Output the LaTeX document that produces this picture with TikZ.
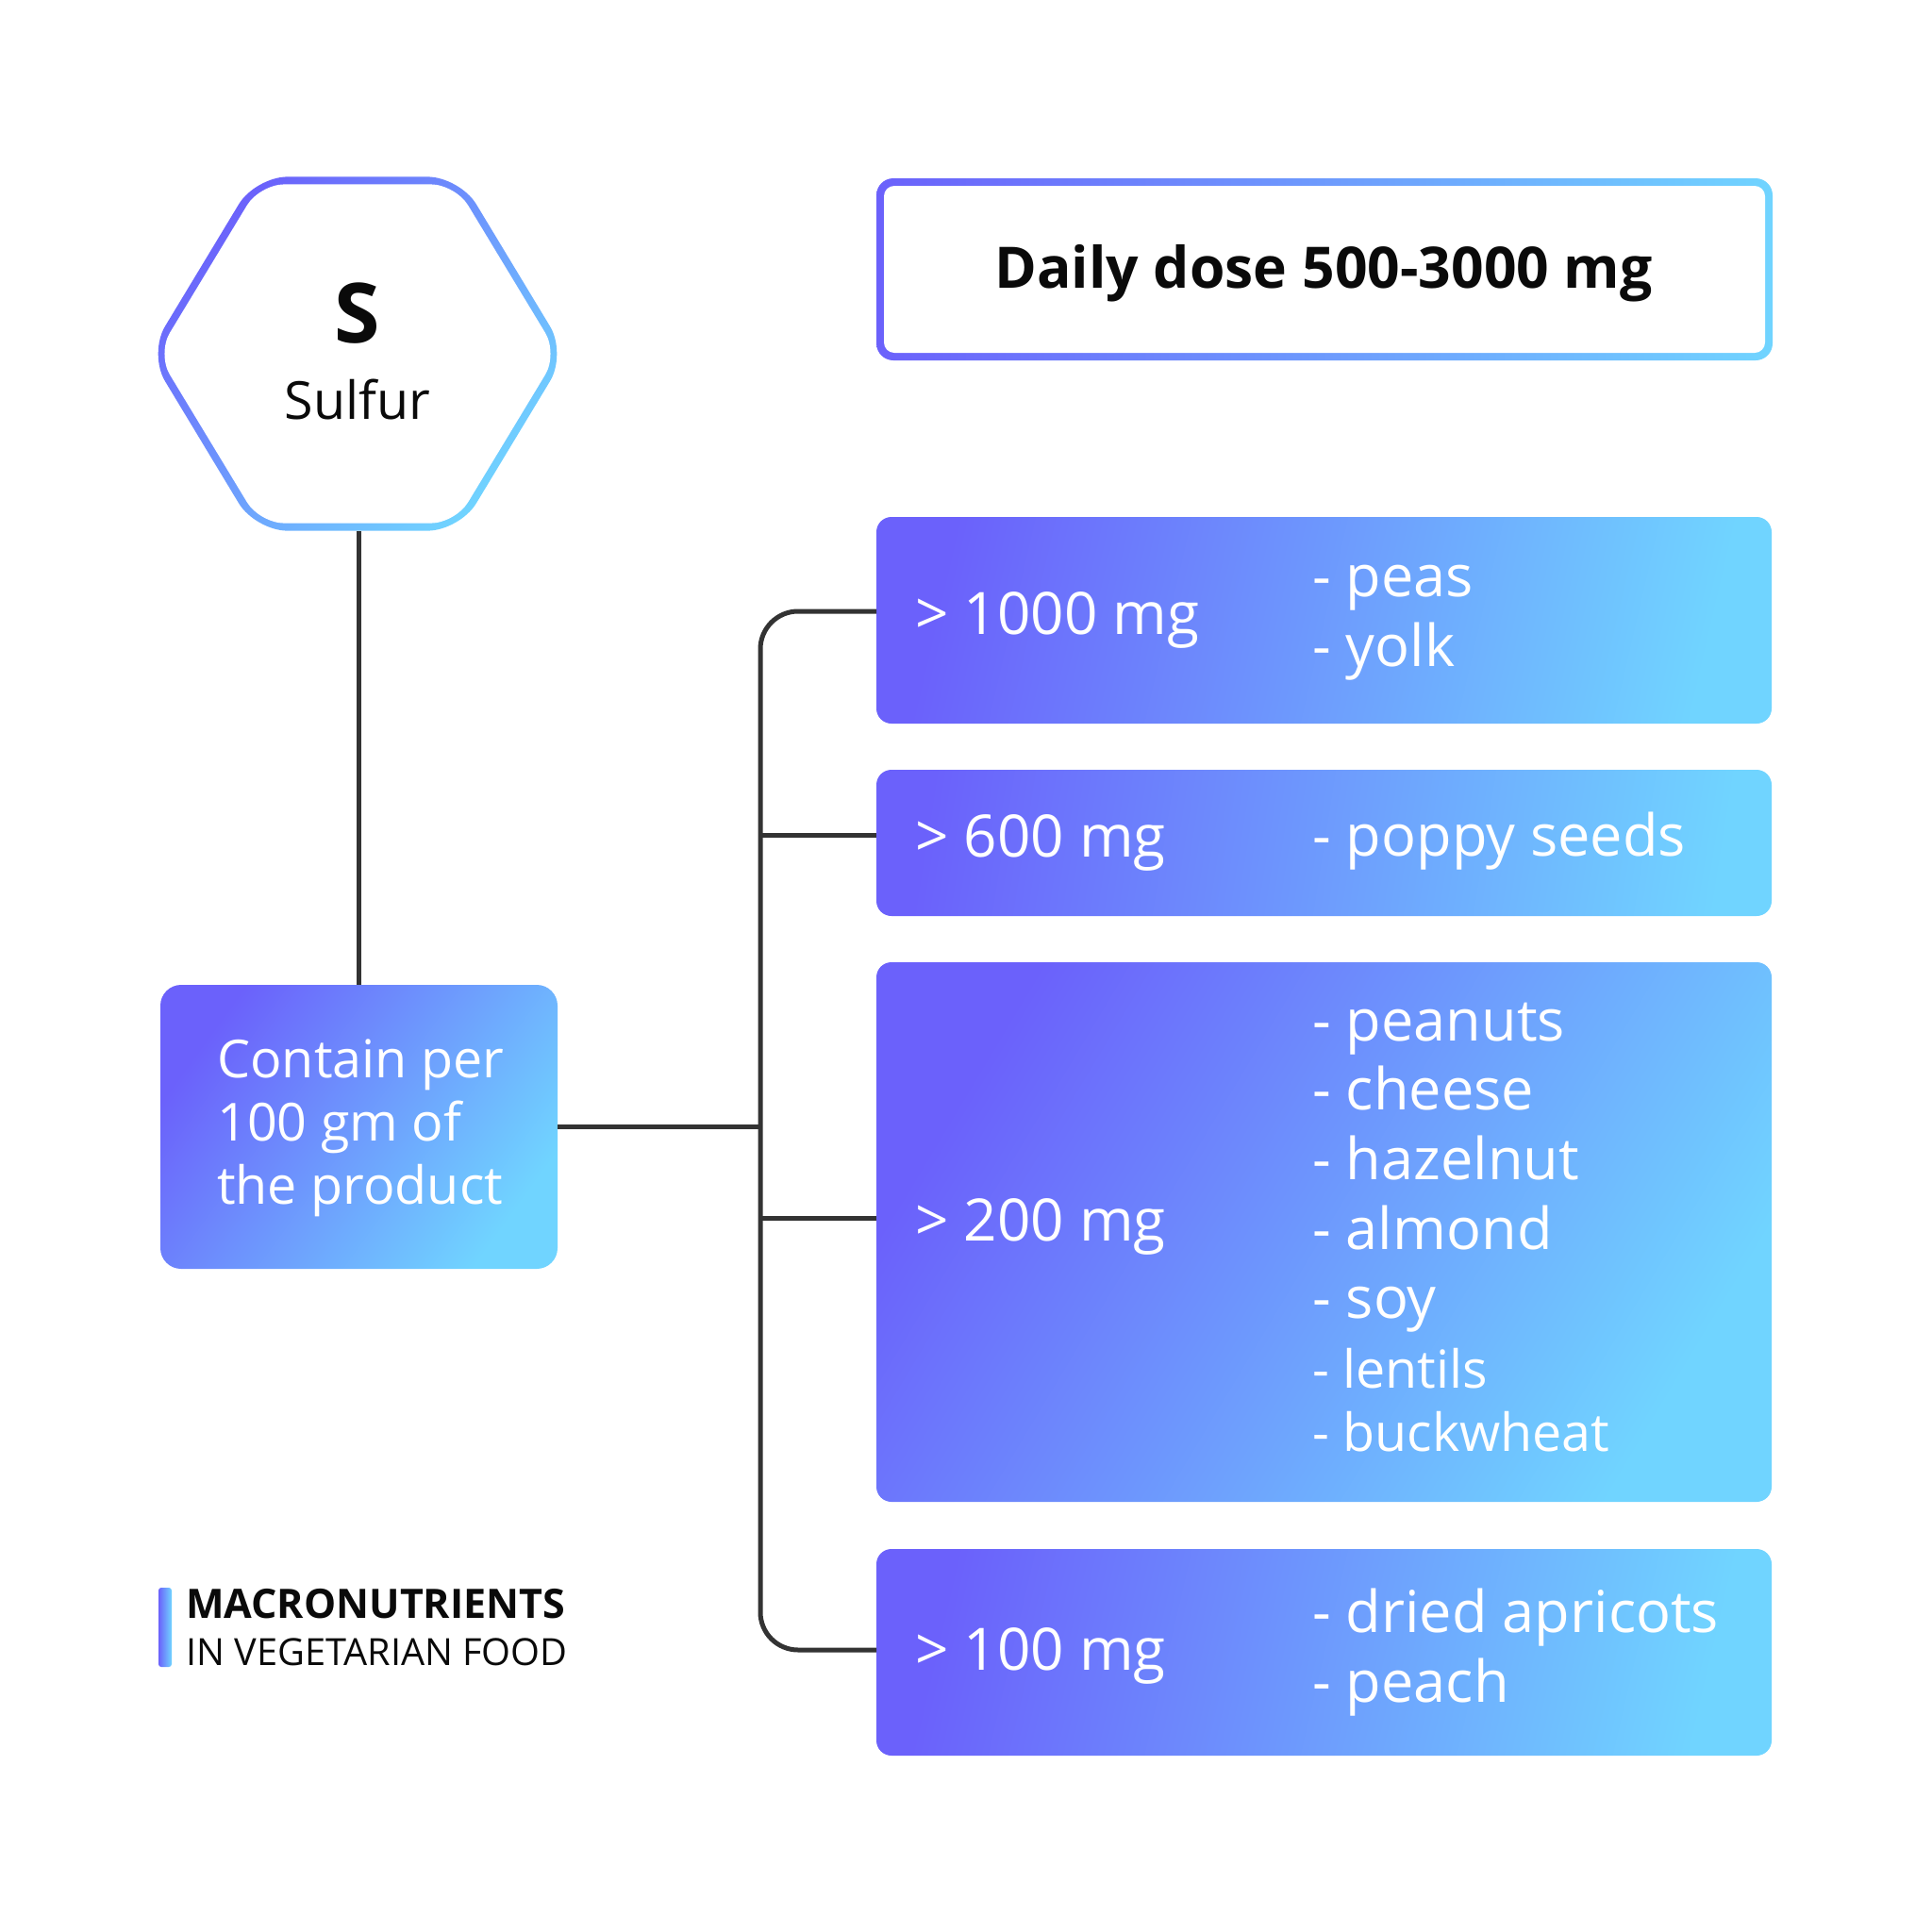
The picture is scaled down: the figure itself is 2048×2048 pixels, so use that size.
\documentclass[tikz,border=0pt]{standalone}
\usepackage{fontspec}
\setmainfont{Open Sans}
\usetikzlibrary{calc}
\definecolor{gP}{HTML}{6B61FB}
\definecolor{gC}{HTML}{70D4FF}
\definecolor{lineC}{HTML}{333333}
\definecolor{txtK}{HTML}{0A0A0A}
\tikzset{
  gbox/.style={rounded corners=16, draw=none, left color=gP, right color=gC, inner sep=0pt},
  conn/.style={draw=lineC, line width=5pt},
  lbl/.style={anchor=base west, inner sep=0pt, text=white, font=\fontsize{62}{74}\selectfont},
  itm/.style={anchor=base west, inner sep=0pt, text=white, font=\fontsize{61.3}{74}\selectfont},
  itms/.style={anchor=base west, inner sep=0pt, text=white, font=\fontsize{55.6}{68}\selectfont},
  ctxt/.style={anchor=base west, inner sep=0pt, text=white, font=\fontsize{55.6}{68}\selectfont},
}
\begin{document}
\begin{tikzpicture}[x=1pt,y=-1pt]
\useasboundingbox (0,0) rectangle (2048,2048);
\fill[white] (0,0) rectangle (2048,2048);

% hexagon (gradient ring)
\shade[left color=gP, right color=gC, shading angle=45, rounded corners=34]
  (157.4,375) -- (270.7,187.4) -- (487.3,187.4) -- (600.6,375) -- (487.3,562.6) -- (270.7,562.6) -- cycle;
\fill[white, rounded corners=26]
  (166.6,375) -- (275.3,195.4) -- (482.7,195.4) -- (591.4,375) -- (482.7,554.6) -- (275.3,554.6) -- cycle;
\node[anchor=base, inner sep=0pt, text=txtK, font=\fontsize{88}{100}\selectfont\bfseries] (sym) at (379,363) {S};
\node[anchor=base, inner sep=0pt, text=txtK, font=\fontsize{55.6}{68}\selectfont] (elname) at (379,444) {Sulfur};
\coordinate (hexbot) at (380.5,563);

% daily dose box (gradient border)
\shade[left color=gP, right color=gC, shading angle=90, rounded corners=18] (929,189) rectangle (1879,382);
\fill[white, rounded corners=11] (937,197) rectangle (1871,374);
\node[anchor=base, inner sep=0pt, text=txtK, font=\fontsize{60.6}{75}\selectfont\bfseries] (daily) at (1403,305) {Daily dose 500-3000 mg};

% content box
\node[gbox, rounded corners=22, minimum width=421, minimum height=301, shading angle=54] (contain) at (380.5,1194.5) {};
\node[ctxt] (c1) at (230,1142) {Contain per};
\node[ctxt] (c2) at (230,1209) {100 gm of};
\node[ctxt] (c3) at (230,1276) {the product};

% level boxes
\node[gbox, minimum width=949, minimum height=219, shading angle=77] (b1) at (1403.5,657.5) {};
\node[gbox, minimum width=949, minimum height=155, shading angle=81] (b2) at (1403.5,893.5) {};
\node[gbox, minimum width=949, minimum height=572, shading angle=59] (b3) at (1403.5,1306) {};
\node[gbox, minimum width=949, minimum height=219, shading angle=77] (b4) at (1403.5,1751.5) {};

\node[lbl] (l1) at (970,672) {> 1000 mg};
\node[itm] (i11) at (1391,632) {- peas};
\node[itm] (i12) at (1391,706) {- yolk};

\node[lbl] (l2) at (970,908) {> 600 mg};
\node[itm] (i21) at (1391,907) {- poppy seeds};

\node[lbl] (l3) at (970,1315) {> 200 mg};
\node[itm] (i31) at (1391,1103) {- peanuts};
\node[itm] (i32) at (1391,1176) {- cheese};
\node[itm] (i33) at (1391,1250) {- hazelnut};
\node[itm] (i34) at (1391,1324) {- almond};
\node[itm] (i35) at (1391,1397) {- soy};
\node[itms] (i36) at (1391,1471) {- lentils};
\node[itms] (i37) at (1391,1538) {- buckwheat};

\node[lbl] (l4) at (970,1770) {> 100 mg};
\node[itm] (i41) at (1391,1730) {- dried apricots};
\node[itm] (i42) at (1391,1804) {- peach};

% connectors
\coordinate (p1) at (929,648);
\coordinate (p2) at (929,885);
\coordinate (p3) at (929,1291);
\coordinate (p4) at (929,1749);
\coordinate (bt) at (806,648);
\coordinate (bb) at (806,1749);
\draw[conn] (hexbot) -- (contain.north);
\draw[conn, rounded corners=40] (p1) -- (bt) -- (bb) -- (p4);
\draw[conn] (p2) -- (p2 -| bt);
\draw[conn] (p3) -- (p3 -| bt);
\draw[conn] (contain.east) -- (contain.east -| bt);

% caption
\shade[left color=gP, right color=gC, shading angle=90, rounded corners=3] (168,1683) rectangle (182,1767);
\node[anchor=base west, inner sep=0pt, text=txtK, font=\fontsize{43}{50}\selectfont\bfseries] (cap1) at (197,1715) {MACRONUTRIENTS};
\node[anchor=base west, inner sep=0pt, text=txtK, font=\fontsize{39.7}{50}\selectfont] (cap2) at (197,1765) {IN VEGETARIAN FOOD};
\end{tikzpicture}
\end{document}
